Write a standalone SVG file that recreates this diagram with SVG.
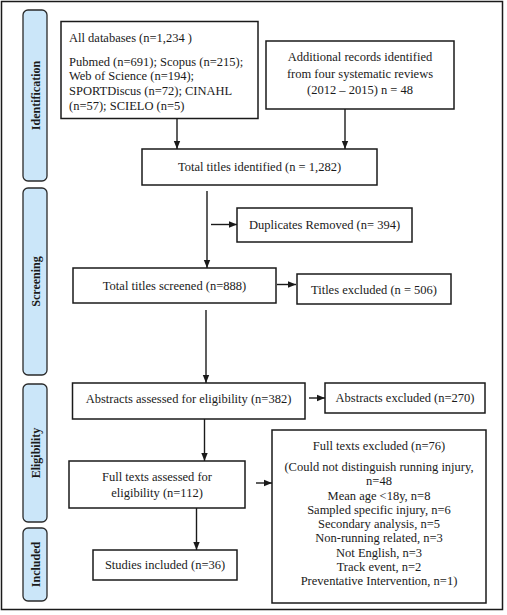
<svg xmlns="http://www.w3.org/2000/svg" width="507" height="615" viewBox="0 0 507 615">
<style>
.box{fill:#fff;stroke:#1a1a1a;stroke-width:1.5}
.lab{fill:#cbe6f9;stroke:#2a2a2a;stroke-width:1.3}
.t{font-family:"Liberation Serif","Times New Roman",serif;font-size:12.5px;fill:#1a1a1a}
.c{text-anchor:middle}
.v{font-family:"Liberation Serif","Times New Roman",serif;font-size:12px;font-weight:bold;fill:#1a1a1a;text-anchor:middle}
.ln{stroke:#1a1a1a;stroke-width:1.4;fill:none}
</style>
<defs>
<marker id="ah" markerUnits="userSpaceOnUse" markerWidth="8" markerHeight="8" refX="8" refY="4" orient="auto">
<path d="M0,0.8 L8,4 L0,7.2 Z" fill="#1a1a1a"/>
</marker>
</defs>
<rect x="1.5" y="1.5" width="501" height="608" fill="#fff" stroke="#1a1a1a" stroke-width="1.5"/>

<g id="lab-identification">
<rect class="lab" x="23" y="10" width="24" height="171" rx="5"/>
<text class="v" transform="translate(39.5,95.5) rotate(-90)">Identification</text>
</g>
<g id="lab-screening">
<rect class="lab" x="23" y="188" width="24" height="187" rx="5"/>
<text class="v" transform="translate(39.5,281.5) rotate(-90)">Screening</text>
</g>
<g id="lab-eligibility">
<rect class="lab" x="23" y="384" width="24" height="138" rx="5"/>
<text class="v" transform="translate(39.5,453) rotate(-90)">Eligibility</text>
</g>
<g id="lab-included">
<rect class="lab" x="23" y="528" width="24" height="73" rx="5"/>
<text class="v" transform="translate(39.5,564.5) rotate(-90)">Included</text>
</g>

<g id="databases">
<rect class="box" x="61" y="21.5" width="197" height="97"/>
<text class="t" x="69" y="42">All databases (n=1,234 )</text>
<text class="t" x="69" y="65.5">Pubmed (n=691); Scopus (n=215);</text>
<text class="t" x="69" y="80">Web of Science (n=194);</text>
<text class="t" x="69" y="95">SPORTDiscus (n=72); CINAHL</text>
<text class="t" x="69" y="110">(n=57); SCIELO (n=5)</text>
</g>
<g id="additional">
<rect class="box" x="266" y="41" width="188" height="68"/>
<text class="t c" x="360" y="61">Additional records identified</text>
<text class="t c" x="360" y="77.5">from four systematic reviews</text>
<text class="t c" x="360" y="93.5">(2012 – 2015) n = 48</text>
</g>
<g id="identified">
<rect class="box" x="142" y="149" width="235" height="36"/>
<text class="t c" x="259.5" y="171">Total titles identified (n = 1,282)</text>
</g>
<g id="duplicates">
<rect class="box" x="237" y="208" width="175" height="34"/>
<text class="t c" x="324.5" y="229">Duplicates Removed (n= 394)</text>
</g>
<g id="screened">
<rect class="box" x="73" y="268" width="203" height="35"/>
<text class="t c" x="174.5" y="290">Total titles screened (n=888)</text>
</g>
<g id="titles-excluded">
<rect class="box" x="297" y="274" width="154" height="30"/>
<text class="t c" x="374" y="293.5">Titles excluded (n = 506)</text>
</g>
<g id="abstracts">
<rect class="box" x="72.5" y="383" width="232.5" height="36"/>
<text class="t c" x="188.5" y="402.5">Abstracts assessed for eligibility (n=382)</text>
</g>
<g id="abstracts-excluded">
<rect class="box" x="325" y="383" width="160" height="30"/>
<text class="t c" x="405" y="402">Abstracts excluded (n=270)</text>
</g>
<g id="fulltexts">
<rect class="box" x="69" y="461" width="176" height="47"/>
<text class="t c" x="157" y="481">Full texts assessed for</text>
<text class="t c" x="157" y="497">eligibility (n=112)</text>
</g>
<g id="fulltexts-excluded">
<rect class="box" x="272" y="430" width="214" height="173"/>
<text class="t c" x="379" y="450">Full texts excluded (n=76)</text>
<text class="t c" x="379" y="471">(Could not distinguish running injury,</text>
<text class="t c" x="379" y="485.25">n=48</text>
<text class="t c" x="379" y="499.5">Mean age &lt;18y, n=8</text>
<text class="t c" x="379" y="513.75">Sampled specific injury, n=6</text>
<text class="t c" x="379" y="528">Secondary analysis, n=5</text>
<text class="t c" x="379" y="542.25">Non-running related, n=3</text>
<text class="t c" x="379" y="556.5">Not English, n=3</text>
<text class="t c" x="379" y="570.75">Track event, n=2</text>
<text class="t c" x="379" y="585">Preventative Intervention, n=1)</text>
</g>
<g id="included">
<rect class="box" x="93" y="550" width="144" height="30"/>
<text class="t c" x="165" y="569">Studies included (n=36)</text>
</g>

<g id="connectors">
<line class="ln" x1="177" y1="118.5" x2="177" y2="149" marker-end="url(#ah)"/>
<line class="ln" x1="345" y1="109" x2="345" y2="149" marker-end="url(#ah)"/>
<line class="ln" x1="207" y1="191" x2="207" y2="268" marker-end="url(#ah)"/>
<line class="ln" x1="211" y1="224.5" x2="237" y2="224.5" marker-end="url(#ah)"/>
<line class="ln" x1="277" y1="284.5" x2="296" y2="284.5" marker-end="url(#ah)"/>
<line class="ln" x1="206" y1="310" x2="206" y2="383" marker-end="url(#ah)"/>
<line class="ln" x1="309" y1="398" x2="325" y2="398" marker-end="url(#ah)"/>
<line class="ln" x1="204.5" y1="419" x2="204.5" y2="461" marker-end="url(#ah)"/>
<line class="ln" x1="256" y1="483" x2="272" y2="483" marker-end="url(#ah)"/>
<line class="ln" x1="196.5" y1="508" x2="196.5" y2="550" marker-end="url(#ah)"/>
</g>
</svg>
